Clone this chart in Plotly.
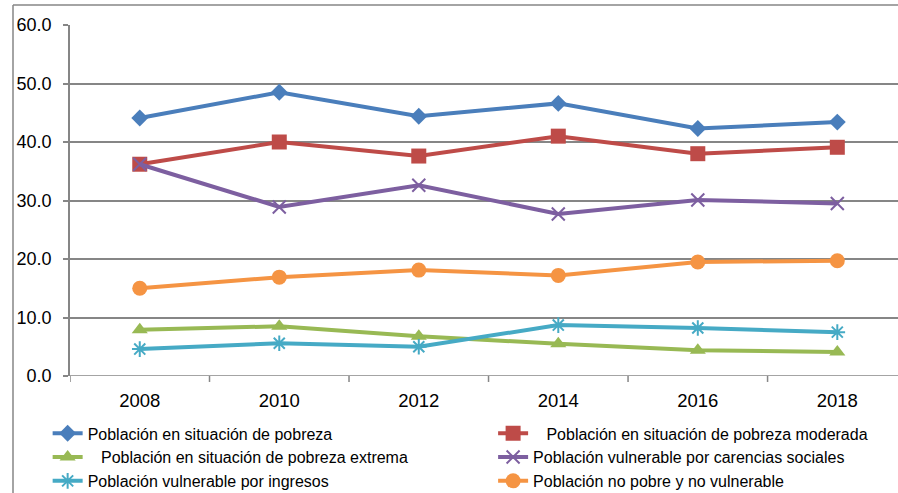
import plotly.graph_objects as go

years = ["2008", "2010", "2012", "2014", "2016", "2018"]
pobreza = [44.1, 48.5, 44.4, 46.6, 42.3, 43.4]
moderada = [36.2, 40.0, 37.6, 41.0, 38.0, 39.1]
extrema = [7.9, 8.5, 6.8, 5.5, 4.4, 4.1]
carencias = [36.2, 28.9, 32.6, 27.7, 30.1, 29.5]
ingresos = [4.6, 5.6, 5.0, 8.7, 8.2, 7.5]
no_pobre = [15.0, 16.9, 18.1, 17.2, 19.5, 19.7]

names = [
    "Población en situación de pobreza",
    "\u00a0\u00a0\u00a0Población en situación de pobreza moderada",
    "\u00a0\u00a0\u00a0Población en situación de pobreza extrema",
    "Población vulnerable por carencias sociales",
    "Población vulnerable por ingresos",
    "Población no pobre y no vulnerable",
]
ytick_vals = [0, 10, 20, 30, 40, 50, 60]
ytick_text = ["0.0", "10.0", "20.0", "30.0", "40.0", "50.0", "60.0"]

series = [pobreza, moderada, extrema, carencias, ingresos, no_pobre]
colors = ["#4A7EBB", "#BE4B48", "#98B954", "#7D5FA0", "#46AAC5", "#F59443"]
symbols = ["diamond", "square", "triangle-up", "x-thin", "asterisk", "circle"]
sizes = [13, 15, 14, 13, 13, 15]
legend_ids = ["legend", "legend2", "legend", "legend2", "legend", "legend2"]

fig = go.Figure()
for vals, name, c, s, sz, lg in zip(series, names, colors, symbols, sizes, legend_ids):
    thin = s in ("x-thin", "asterisk")
    fig.add_trace(go.Scatter(
        x=list(range(len(years))), y=vals, name=name, mode="lines+markers",
        line=dict(color=c, width=4), legend=lg,
        marker=dict(symbol=s, size=sz, color=c,
                    line=dict(color=c, width=2 if thin else 0)),
    ))

axis_col = "#868686"
leg_common = dict(orientation="v", yanchor="top", xanchor="left",
                  font=dict(size=16), traceorder="normal",
                  bgcolor="rgba(0,0,0,0)", borderwidth=0)
fig.update_layout(
    width=898, height=493,
    margin=dict(l=70, r=0, t=25, b=117, autoexpand=False),
    paper_bgcolor="white", plot_bgcolor="white",
    font=dict(family="Liberation Sans", size=16, color="#000000"),
    showlegend=True,
    legend=dict(x=-0.027, y=-0.115, **leg_common),
    legend2=dict(x=0.511, y=-0.115, **leg_common),
    xaxis=dict(
        range=[-0.5, 5.435], tickmode="array", tickvals=list(range(len(years))),
        ticktext=years, showgrid=False, zeroline=False,
        showline=False, ticks="", tickfont=dict(size=18.5),
        ticklabelstandoff=11,
    ),
    yaxis=dict(
        range=[0, 60], tickvals=ytick_vals, ticktext=ytick_text,
        showgrid=True, gridcolor=axis_col, gridwidth=1.5, zeroline=False,
        showline=True, linecolor=axis_col, linewidth=1.5,
        ticks="outside", ticklen=5, tickcolor=axis_col, tickwidth=1.5,
        tickfont=dict(size=18), ticklabelstandoff=8,
    ),
)

# x axis baseline with category-boundary tick marks
fig.add_shape(type="line", xref="x", yref="y", x0=-0.5, x1=5.435, y0=0, y1=0,
              line=dict(color=axis_col, width=1.5), layer="below")
for b in [-0.5, 0.5, 1.5, 2.5, 3.5, 4.5]:
    fig.add_shape(type="line", xref="x", yref="paper", x0=b, x1=b, y0=0, y1=-0.017,
                  line=dict(color=axis_col, width=1.5))

# chart border (top and left edges visible)
bx0 = (13 - 70) / 828
by1 = (376 - 5) / 351
fig.add_shape(type="line", xref="paper", yref="paper", x0=bx0, x1=1.0, y0=by1, y1=by1,
              line=dict(color=axis_col, width=1.5), layer="above")
fig.add_shape(type="line", xref="paper", yref="paper", x0=bx0, x1=bx0, y0=-0.4, y1=by1,
              line=dict(color=axis_col, width=1.5), layer="above")

fig.write_html(
    "out.html",
    config={"displayModeBar": False},
    post_script="document.body.style.margin='0';document.body.style.overflow='hidden';",
)
